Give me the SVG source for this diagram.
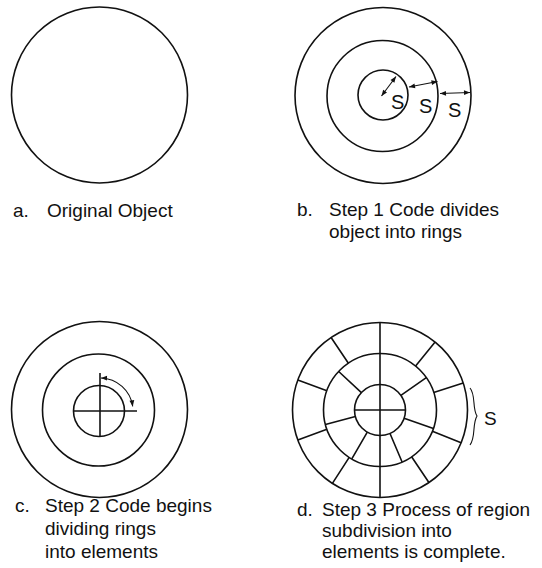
<svg xmlns="http://www.w3.org/2000/svg" width="542" height="568" viewBox="0 0 542 568">
<style>
.ln{fill:none;stroke:#111;stroke-width:1.6}
.ar{fill:none;stroke:#111;stroke-width:1.1}
.tx{font-family:"Liberation Sans",Arial,sans-serif;font-size:19px;fill:#111}
</style>
<defs>
<marker id="ah" viewBox="0 0 10 10" refX="10" refY="5" markerWidth="7" markerHeight="6" markerUnits="userSpaceOnUse" orient="auto-start-reverse">
<path d="M0,1 L10,5 L0,9 z" fill="#111"/>
</marker>
</defs>
<rect width="542" height="568" fill="#fff"/>

<g id="panel-a">
<circle class="ln" cx="99.5" cy="95" r="88"/>
<text class="tx" x="13" y="217">a.</text>
<text class="tx" x="47" y="217">Original Object</text>
</g>

<g id="panel-b">
<circle class="ln" cx="383" cy="95.5" r="88"/>
<circle class="ln" cx="382.5" cy="96" r="55.5"/>
<circle class="ln" cx="383" cy="95" r="25"/>
<text class="tx" x="391" y="109" style="font-size:20px">S</text>
<text class="tx" x="419" y="113" style="font-size:20px">S</text>
<text class="tx" x="448" y="117" style="font-size:20px">S</text>
<text class="tx" x="297" y="216">b.</text>
<text class="tx" x="329" y="216">Step 1 Code divides</text>
<text class="tx" x="329" y="238">object into rings</text>
</g>

<g id="panel-c">
<circle class="ln" cx="99.5" cy="409.5" r="88"/>
<circle class="ln" cx="98.5" cy="410" r="56"/>
<circle class="ln" cx="99" cy="411" r="25.5"/>
<line class="ln" x1="74" y1="411" x2="137" y2="411"/>
<line class="ln" x1="100" y1="373" x2="100" y2="436.5"/>
<text class="tx" x="15" y="512">c.</text>
<text class="tx" x="45" y="512">Step 2 Code begins</text>
<text class="tx" x="45" y="535">dividing rings</text>
<text class="tx" x="45" y="558">into elements</text>
</g>

<g id="panel-d">
<circle class="ln" cx="380" cy="410" r="87.5"/>
<circle class="ln" cx="380" cy="410" r="56.5"/>
<circle class="ln" cx="380" cy="410" r="25.5"/>
<line class="ln" x1="380" y1="322.5" x2="380" y2="497.5"/>
<line class="ln" x1="354.5" y1="410" x2="405.5" y2="410"/>
<path class="ln" d="M400.9,395.4 L426.3,377.6 M404.1,418.3 L433.4,428.4 M390,433.5 L402.1,462 M367.3,432.1 L351.8,458.9 M355.4,416.6 L325.4,424.6 M361.4,392.6 L338.7,371.5"/>
<path class="ln" d="M415.6,366.1 L435.1,342 M433.7,392.5 L463.2,383 M432.4,431.2 L461.1,442.8 M411.6,456.8 L428.9,482.5 M349.2,457.4 L332.4,483.4 M326.9,429.3 L297.8,439.9 M326.9,390.7 L297.8,380.1 M348.4,363.2 L331.1,337.5"/>
<path class="ar" d="M470,388 C476,395 472,408 477,416 C472,424 476,437 470,445"/>
<text class="tx" x="484" y="425">S</text>
<text class="tx" x="297" y="516">d.</text>
<text class="tx" x="322" y="516">Step 3 Process of region</text>
<text class="tx" x="322" y="537">subdivision into</text>
<text class="tx" x="322" y="558">elements is complete.</text>
</g>

<g id="connectors">
<line class="ar" x1="381.5" y1="96" x2="396" y2="76.5" marker-start="url(#ah)" marker-end="url(#ah)"/>
<line class="ar" x1="409" y1="87" x2="437.5" y2="81.5" marker-start="url(#ah)" marker-end="url(#ah)"/>
<line class="ar" x1="440" y1="93.5" x2="470" y2="92.5" marker-start="url(#ah)" marker-end="url(#ah)"/>
<path class="ar" d="M101,378 A33,33 0 0 1 132.7,406.4" marker-start="url(#ah)" marker-end="url(#ah)"/>
</g>
</svg>
